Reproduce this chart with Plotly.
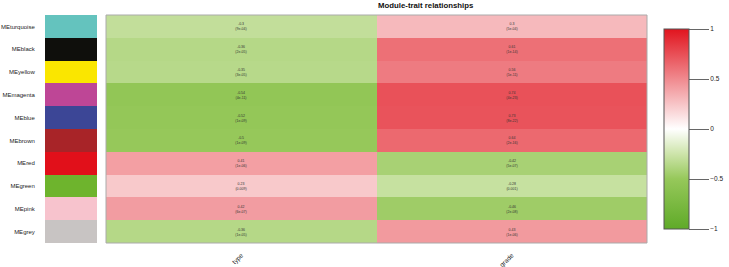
import plotly.graph_objects as go

modules = ["MEturquoise", "MEblack", "MEyellow", "MEmagenta", "MEblue",
           "MEbrown", "MEred", "MEgreen", "MEpink", "MEgrey"]
module_colors = ["#64c3be", "#0f0f0c", "#fae600", "#be4696", "#3c4696",
                 "#a82428", "#e1101a", "#6eb42d", "#f7c3cd", "#c8c4c3"]
traits = ["type", "grade"]

cor_type = [-0.30, -0.36, -0.35, -0.54, -0.52, -0.50, 0.41, 0.23, 0.42, -0.36]
cor_grade = [0.30, 0.61, 0.56, 0.74, 0.73, 0.64, -0.42, -0.28, -0.46, 0.43]
p_type = ["9e-04", "2e-05", "3e-05", "4e-11", "1e-09", "1e-09", "1e-06", "0.009", "6e-07", "1e-05"]
p_grade = ["5e-04", "1e-14", "1e-11", "4e-23", "8e-22", "2e-16", "5e-07", "0.001", "2e-08", "1e-06"]

colorscale = [
    [0.0, "rgb(95,170,40)"],
    [0.25, "rgb(150,200,90)"],
    [0.375, "rgb(205,228,170)"],
    [0.5, "rgb(255,255,255)"],
    [1.0, "rgb(225,20,30)"],
]

def fmt(v):
    s = ("%.2f" % v).rstrip("0").rstrip(".")
    return s

z = [[a, b] for a, b in zip(cor_type, cor_grade)]
text = [[f"{fmt(a)}<br>({pa})", f"{fmt(b)}<br>({pb})"]
        for a, b, pa, pb in zip(cor_type, cor_grade, p_type, p_grade)]

fig = go.Figure()

fig.add_trace(go.Heatmap(
    z=z, x=traits, y=modules, text=text, texttemplate="%{text}",
    textfont=dict(size=3.5, color="#333333", family="Liberation Sans"),
    colorscale=colorscale, zmin=-1, zmax=1,
    xaxis="x", yaxis="y",
    colorbar=dict(
        x=664 / 729, xanchor="left", xpad=0, ypad=0,
        y=1 - 129 / 267, yanchor="middle",
        lenmode="pixels", len=200, thicknessmode="pixels", thickness=25,
        outlinecolor="#555555", outlinewidth=1,
        tickvals=[-1, -0.5, 0, 0.5, 1], ticktext=["−1", "−0.5", "0", "0.5", "1"],
        ticks="outside", ticklen=20, tickcolor="#666666", tickwidth=1,
        tickfont=dict(size=6.5, family="Liberation Sans", color="#222222"),
    ),
))

n = len(modules)
swatch_scale = [[i / (n - 1), c] for i, c in enumerate(module_colors)]
fig.add_trace(go.Heatmap(
    z=[[i] for i in range(n)], x=["c"], y=modules,
    colorscale=swatch_scale, zmin=0, zmax=n - 1, showscale=False,
    xaxis="x2", yaxis="y2", hoverinfo="skip",
))

ydom = [1 - 243 / 267, 1 - 15 / 267]
fig.update_layout(
    width=729, height=267,
    margin=dict(l=0, r=0, t=0, b=0, autoexpand=False),
    paper_bgcolor="white", plot_bgcolor="white",
    font=dict(family="Liberation Sans", color="#222222"),
    xaxis=dict(domain=[106 / 729, 647 / 729], anchor="y", showgrid=False, zeroline=False,
               tickangle=-45, tickfont=dict(size=6.5), ticks="outside", ticklen=5,
               tickcolor="rgba(0,0,0,0)", automargin=False),
    yaxis=dict(domain=ydom, anchor="x", autorange="reversed", showticklabels=False,
               showgrid=False, zeroline=False, automargin=False),
    xaxis2=dict(domain=[45 / 729, 97 / 729], anchor="y2", showticklabels=False,
                showgrid=False, zeroline=False, automargin=False),
    yaxis2=dict(domain=ydom, anchor="x2", autorange="reversed", showgrid=False,
                zeroline=False, tickfont=dict(size=6), ticks="outside", ticklen=8,
                tickcolor="rgba(0,0,0,0)", automargin=False),
    annotations=[dict(text="<b>Module-trait relationships</b>", x=426 / 729, y=1 - 5.5 / 267,
                      xref="paper", yref="paper", showarrow=False, yanchor="middle",
                      font=dict(size=7.8, family="Liberation Sans", color="#111111"))],
    shapes=[dict(type="rect", xref="x domain", yref="y domain", x0=0, x1=1, y0=0, y1=1,
                 line=dict(color="#aaaaaa", width=1))],
)

fig.write_html("out.html", config={"displayModeBar": False},
               post_script="document.body.style.margin='0';document.body.style.overflow='hidden';")
